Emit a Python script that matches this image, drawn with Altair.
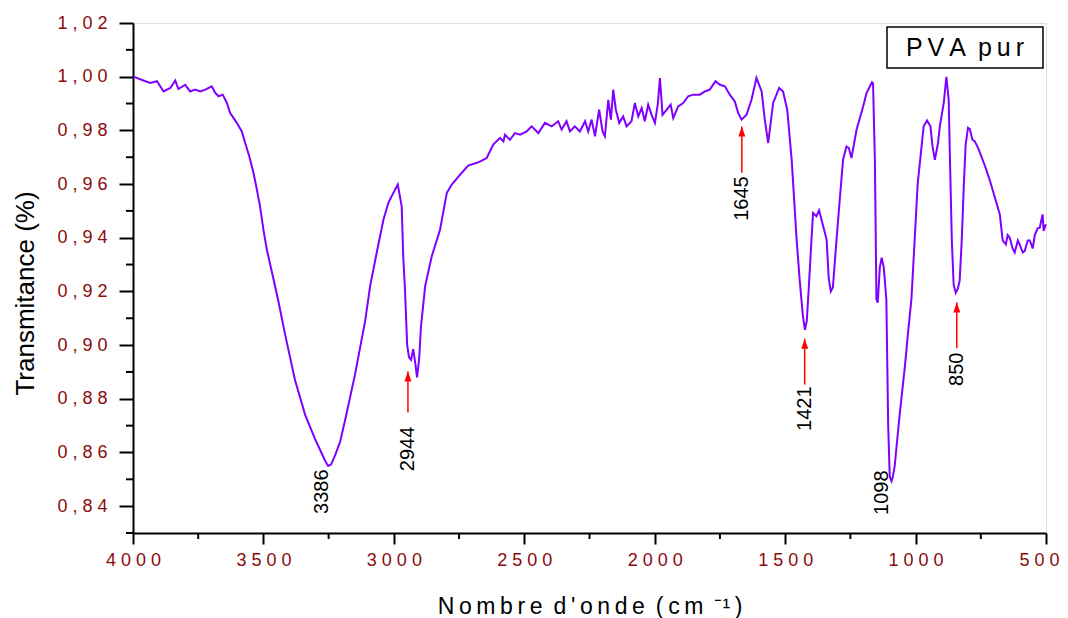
import altair as alt
import pandas as pd

# ---------------- data ----------------
wavenumber = [
    3998, 3960, 3934, 3908, 3883, 3857, 3838, 3826, 3800, 3781,
    3762, 3742, 3723, 3698, 3685, 3672, 3656, 3640, 3628, 3602,
    3583, 3570, 3554, 3538, 3525, 3513, 3500, 3487, 3474, 3444,
    3417, 3379, 3340, 3302, 3283, 3264, 3252, 3241, 3225, 3206,
    3187, 3149, 3110, 3091, 3066, 3040, 3021, 3002, 2985, 2970,
    2964, 2957, 2949, 2942, 2934, 2926, 2919, 2911, 2903, 2896,
    2880, 2855, 2823, 2797, 2778, 2746, 2715, 2676, 2644, 2619,
    2593, 2580, 2574, 2555, 2536, 2516, 2491, 2472, 2446, 2421,
    2395, 2370, 2357, 2338, 2325, 2306, 2287, 2267, 2255, 2242,
    2229, 2213, 2200, 2191, 2178, 2168, 2159, 2149, 2136, 2121,
    2108, 2089, 2076, 2063, 2050, 2038, 2025, 2012, 1999, 1988,
    1980, 1970, 1954, 1939, 1929, 1910, 1891, 1872, 1853, 1827,
    1808, 1789, 1767, 1750, 1731, 1712, 1693, 1680, 1667, 1648,
    1629, 1610, 1590, 1578, 1565, 1546, 1523, 1508, 1492, 1475,
    1456, 1444, 1432, 1424, 1417, 1409, 1399, 1393, 1380, 1370,
    1354, 1341, 1333, 1325, 1317, 1303, 1290, 1278, 1265, 1256,
    1246, 1226, 1201, 1188, 1167, 1163, 1156, 1150, 1145, 1137,
    1130, 1122, 1112, 1105, 1099, 1092, 1087, 1080, 1061, 1041,
    1029, 1016, 1003, 992, 977, 969, 956, 943, 935, 926,
    914, 907, 892, 882, 873, 869, 861, 854, 846, 838,
    831, 823, 815, 808, 799, 792, 782, 773, 760, 735,
    716, 696, 677, 666, 654, 647, 639, 628, 620, 608,
    601, 589, 582, 570, 562, 551, 543, 532, 524, 513,
    509, 501,
]
transmittance = [
    1.0000, 0.9986, 0.9977, 0.9983, 0.9945, 0.9958, 0.9986, 0.9954, 0.9970, 0.9945,
    0.9952, 0.9945, 0.9952, 0.9964, 0.9940, 0.9927, 0.9933, 0.9902, 0.9865, 0.9828,
    0.9796, 0.9753, 0.9703, 0.9641, 0.9579, 0.9517, 0.9430, 0.9356, 0.9300, 0.9170,
    0.9040, 0.8870, 0.8740, 0.8650, 0.8610, 0.8570, 0.8550, 0.8555, 0.8590, 0.8640,
    0.8720, 0.8890, 0.9090, 0.9220, 0.9343, 0.9467, 0.9530, 0.9567, 0.9598, 0.9517,
    0.9330, 0.9200, 0.9000, 0.8955, 0.8945, 0.8985, 0.8940, 0.8880, 0.8950, 0.9070,
    0.9220, 0.9330, 0.9430, 0.9567, 0.9598, 0.9635, 0.9669, 0.9681, 0.9697, 0.9747,
    0.9772, 0.9759, 0.9784, 0.9765, 0.9790, 0.9784, 0.9796, 0.9815, 0.9790, 0.9828,
    0.9815, 0.9834, 0.9803, 0.9834, 0.9796, 0.9815, 0.9796, 0.9834, 0.9796, 0.9840,
    0.9778, 0.9877, 0.9796, 0.9778, 0.9914, 0.9840, 0.9952, 0.9877, 0.9828, 0.9852,
    0.9815, 0.9834, 0.9902, 0.9852, 0.9883, 0.9834, 0.9896, 0.9858, 0.9828, 0.9900,
    0.9995, 0.9858, 0.9877, 0.9896, 0.9846, 0.9889, 0.9902, 0.9927, 0.9933, 0.9933,
    0.9945, 0.9952, 0.9983, 0.9970, 0.9964, 0.9933, 0.9908, 0.9865, 0.9840, 0.9858,
    0.9914, 0.9995, 0.9945, 0.9840, 0.9753, 0.9902, 0.9958, 0.9945, 0.9877, 0.9691,
    0.9393, 0.9240, 0.9110, 0.9057, 0.9090, 0.9220, 0.9393, 0.9492, 0.9480, 0.9502,
    0.9442, 0.9393, 0.9250, 0.9200, 0.9215, 0.9393, 0.9550, 0.9691, 0.9740, 0.9735,
    0.9697, 0.9803, 0.9889, 0.9939, 0.9979, 0.9975, 0.9691, 0.9170, 0.9158, 0.9290,
    0.9326, 0.9290, 0.9170, 0.8700, 0.8510, 0.8493, 0.8510, 0.8550, 0.8741, 0.8920,
    0.9045, 0.9170, 0.9400, 0.9600, 0.9740, 0.9815, 0.9837, 0.9815, 0.9740, 0.9690,
    0.9753, 0.9815, 0.9902, 0.9999, 0.9914, 0.9728, 0.9390, 0.9225, 0.9195, 0.9210,
    0.9240, 0.9390, 0.9597, 0.9747, 0.9810, 0.9805, 0.9765, 0.9759, 0.9734, 0.9670,
    0.9616, 0.9550, 0.9487, 0.9390, 0.9375, 0.9410, 0.9400, 0.9360, 0.9345, 0.9390,
    0.9375, 0.9345, 0.9350, 0.9390, 0.9390, 0.9360, 0.9410, 0.9435, 0.9437, 0.9487,
    0.9425, 0.9450,
]
assert len(wavenumber) == len(transmittance)

peak_labels = ["3386", "2944", "1645", "1421", "1098", "850"]
label_w = [3275, 2946, 1666, 1425, 1129, 842]
label_t = [0.8454, 0.8613, 0.9546, 0.8763, 0.8450, 0.8910]

arrow_w = [2946, 1666, 1425, 842]
arrow_tip = [0.8902, 0.9814, 0.9024, 0.9159]
arrow_tail = [0.8749, 0.9642, 0.8853, 0.8988]

x_major = [500, 1000, 1500, 2000, 2500, 3000, 3500, 4000]
x_minor = [750, 1250, 1750, 2250, 2750, 3250, 3750]
y_major = [0.84, 0.86, 0.88, 0.90, 0.92, 0.94, 0.96, 0.98, 1.00, 1.02]
y_minor = [0.83, 0.85, 0.87, 0.89, 0.91, 0.93, 0.95, 0.97, 0.99, 1.01]

legend_text = "P\u2009V\u2009A\u2009 p\u2009u\u2009r"
x_title = "N\u2009o\u2009m\u2009b\u2009r\u2009e\u2009 d\u2009'\u2009o\u2009n\u2009d\u2009e\u2009 (\u2009c\u2009m\u2009 \u207b\u00b9\u2009)"
y_title = "Transmitance (%)"

# ---------------- styling ----------------
FONT = "Liberation Sans"
LINE = "#7F00FF"
LABEL_RED = "#8B0A0A"
W, H = 913, 510

xscale = alt.Scale(domain=[500, 4000], reverse=True, nice=False, zero=False)
yscale = alt.Scale(domain=[0.83, 1.02], nice=False, zero=False)

spec_df = pd.DataFrame({"w": wavenumber, "T": transmittance})
ann_df = pd.DataFrame({"w": label_w, "T": label_t, "label": peak_labels})
arrow_df = pd.DataFrame({"w": arrow_w, "T": arrow_tip, "T2": arrow_tail})
xminor_df = pd.DataFrame({"w": x_minor})
yminor_df = pd.DataFrame({"T": y_minor})
one_df = pd.DataFrame({"k": [0]})

x_axis = alt.Axis(
    values=x_major, grid=False, tickSize=11, tickWidth=2, tickColor="black",
    domainColor="black", domainWidth=2, labelFont=FONT, labelFontSize=18,
    labelColor=LABEL_RED, labelPadding=7, labelFlush=False, labelOverlap=False,
    labelAlign={"condition": {"test": "datum.value == 500", "value": "right"}, "value": "center"},
    labelOffset={"condition": {"test": "datum.value == 500", "value": 13}, "value": 0},
    labelExpr="join(split(format(datum.value, 'd'), ''), ' ')",
    title=x_title, titleFont=FONT, titleFontSize=23, titleFontWeight="normal",
    titleColor="black", titleBaseline="alphabetic", titleY=80,
)
y_axis = alt.Axis(
    values=y_major, grid=False, tickSize=14, tickWidth=2, tickColor="black",
    domainColor="black", domainWidth=2, labelFont=FONT, labelFontSize=18,
    labelColor=LABEL_RED, labelPadding=12, labelFlush=False, labelOverlap=False,
    labelExpr="join(split(replace(format(datum.value, '.2f'), '.', ','), ''), ' ')",
    title=y_title, titleFont=FONT, titleFontSize=26, titleFontWeight="normal",
    titleColor="black", titleAngle=270, titleBaseline="alphabetic",
    titleAlign="center", titleX=-100, titleY=270,
)

X = alt.X("w:Q", scale=xscale, axis=x_axis, title=x_title)
Y = alt.Y("T:Q", scale=yscale, axis=y_axis, title=y_title)

line = alt.Chart(spec_df).mark_line(color=LINE, strokeWidth=2).encode(x=X, y=Y)

xminor = alt.Chart(xminor_df).mark_rule(color="black", strokeWidth=2).encode(
    x=X, y=alt.value(H), y2=alt.value(H + 6),
)
yminor = alt.Chart(yminor_df).mark_rule(color="black", strokeWidth=2).encode(
    y=Y, x=alt.value(-7), x2=alt.value(0),
)

arrows = alt.Chart(arrow_df).mark_rule(color="red", strokeWidth=1.5).encode(
    x=X, y=Y, y2="T2:Q",
)
heads = alt.Chart(arrow_df).mark_point(
    shape="M0,0L0.35,1L-0.35,1Z", size=400, filled=True, color="red",
    opacity=1, strokeWidth=0,
).encode(x=X, y=Y)

ann = alt.Chart(ann_df).mark_text(
    angle=270, font=FONT, fontSize=20, color="black", align="center", baseline="middle",
).encode(x=X, y=Y, text="label:N")

legend_box = alt.Chart(one_df).mark_rect(
    fill="white", stroke="black", strokeWidth=1.5,
).encode(x=alt.value(754), x2=alt.value(910), y=alt.value(4), y2=alt.value(45))

legend_label = alt.Chart(one_df).mark_text(
    font=FONT, fontSize=25, color="black", align="center", baseline="middle",
).encode(x=alt.value(832), y=alt.value(25), text=alt.value(legend_text))

chart = alt.layer(
    line, xminor, yminor, arrows, heads, ann, legend_box, legend_label
).properties(
    width=W, height=H,
    padding={"left": 125, "top": 15, "right": 14, "bottom": 87},
    autosize=alt.AutoSizeParams(type="none"),
).configure_view(
    stroke="black", strokeWidth=2,
).configure(font=FONT, background="white")

chart.save("out.html", embed_options={"renderer": "svg", "actions": False})
